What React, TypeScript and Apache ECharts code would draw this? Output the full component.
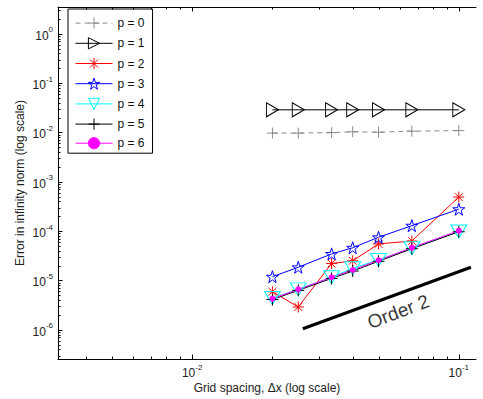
import React, { useEffect, useRef } from "react";
import * as echarts from "echarts";

// ---- data ----
const gridX = [0.02, 0.025, 1 / 30, 0.04, 0.05, 1 / 15, 0.1];
const errP0 = [0.0097, 0.0097, 0.0099, 0.0103, 0.0101, 0.0106, 0.0109];
const errP1 = [0.0287, 0.0287, 0.0287, 0.0287, 0.0287, 0.0287, 0.0287];
const errP2 = [5.9e-6, 2.9e-6, 2.2e-5, 2.5e-5, 5.5e-5, 6.3e-5, 4.9e-4];
const errP3 = [1.19e-5, 1.85e-5, 3.45e-5, 4.6e-5, 7.5e-5, 1.29e-4, 2.78e-4];
const errP4 = [4.4e-6, 6.6e-6, 1.16e-5, 1.77e-5, 2.6e-5, 4.5e-5, 9.8e-5];
const errP5 = [4.1e-6, 6.3e-6, 1.1e-5, 1.55e-5, 2.45e-5, 4.4e-5, 9.7e-5];
const errP6 = [4.27e-6, 6.6e-6, 1.16e-5, 1.63e-5, 2.57e-5, 4.63e-5, 1.02e-4];
const seriesNames = ["p = 0", "p = 1", "p = 2", "p = 3", "p = 4", "p = 5", "p = 6"];
const orderX = [0.026, 0.111];
const orderY = [1.05e-6, 1.85e-5];
const orderLabelX = 0.0593;
const orderLabelY = 2.33e-6;
const orderLabelText = "Order 2";
const xMin = 0.00314;
const xMax = 0.116;
const yMin = 2.56e-7;
const yMax = 3.48;
const xDecades = [-3, -2, -1];
const yDecades = [-7, -6, -5, -4, -3, -2, -1, 0];
const mantissas = [1, 2, 3, 4, 5, 6, 7, 8, 9];
const xTitle = "Grid spacing, \u0394x (log scale)";
const yTitle = "Error in infinity norm (log scale)";

const FONT = "'Liberation Sans', Arial, Helvetica, sans-serif";

const PLUS = "path://M5,0L5,10M0,5L10,5";
const ASTER = "path://M5,0L5,10M0,5L10,5M1.46,1.46L8.54,8.54M8.54,1.46L1.46,8.54";
const STAR =
  "path://M10,0L12.25,6.91L19.51,6.91L13.63,11.18L15.88,18.09L10,13.82L4.12,18.09L6.37,11.18L0.49,6.91L7.75,6.91Z";
const TRI_RIGHT = "path://M0,0L12,7L0,14Z";
const TRI_DOWN = "path://M0,0L16,0L8,13Z";

function buildTicks(decades: number[], lo: number, hi: number) {
  const out: number[][] = [];
  decades.forEach((d) => {
    mantissas.forEach((m) => {
      const v = m * Math.pow(10, d);
      if (v >= lo && v <= hi) out.push([v, m === 1 ? 1 : 0]);
    });
  });
  return out;
}

function supLabel(v: number) {
  const l = Math.log10(v);
  const e = Math.round(l);
  if (Math.abs(l - e) > 1e-6) return "";
  return `{b|10}{e|${e}}`;
}

export default function App() {
  const ref = useRef<HTMLDivElement>(null);
  useEffect(() => {
    if (!ref.current) return;
    const chart = echarts.init(ref.current, undefined, { renderer: "svg" });

    const xTicks = buildTicks(xDecades, xMin, xMax);
    const yTicks = buildTicks(yDecades, yMin, yMax);

    const mk = (
      name: string,
      vals: number[],
      color: string,
      symbol: string,
      size: any,
      fill: string,
      dashed = false,
      borderWidth = 1
    ) => ({
      name,
      type: "line",
      data: gridX.map((x, i) => [x, vals[i]]),
      symbol,
      symbolSize: size,
      showAllSymbol: true,
      lineStyle: { color, width: 1, type: dashed ? [5, 4] : "solid" },
      itemStyle: { color: fill, borderColor: color, borderWidth },
      emphasis: { disabled: true },
      z: 3,
    });

    const labelRich = {
      b: { fontSize: 12, lineHeight: 16, verticalAlign: "bottom", fontFamily: FONT, color: "#222" },
      e: { fontSize: 8, lineHeight: 8, verticalAlign: "top", fontFamily: FONT, color: "#222" },
    };

    chart.setOption({
      animation: false,
      backgroundColor: "#fff",
      textStyle: { fontFamily: FONT },
      grid: { left: 58, right: 7, top: 7, bottom: 40, outerBoundsMode: "none" },
      legend: {
        data: seriesNames,
        orient: "vertical",
        left: 68,
        top: 9,
        itemWidth: 37,
        itemHeight: 14,
        itemGap: 4,
        padding: [6, 8, 3, 7],
        backgroundColor: "#fff",
        borderColor: "#000",
        borderWidth: 1,
        borderRadius: 0,
        selectedMode: false,
        textStyle: { fontSize: 12, lineHeight: 14, color: "#111", fontFamily: FONT },
        itemStyle: { borderWidth: 1 },
        lineStyle: { width: 1 },
      },
      xAxis: [
        {
          type: "log",
          logBase: 10,
          min: xMin,
          max: xMax,
          position: "bottom",
          name: xTitle,
          nameLocation: "middle",
          nameGap: 23,
          nameMoveOverlap: false,
          nameTextStyle: { fontSize: 12, color: "#222", fontFamily: FONT },
          axisLine: { show: true, lineStyle: { color: "#000", width: 1 } },
          axisTick: { show: false },
          splitLine: { show: false },
          minorTick: { show: false },
          axisLabel: {
            margin: 4,
            formatter: supLabel,
            rich: labelRich,
            showMinLabel: false,
            showMaxLabel: false,
            hideOverlap: false,
          },
        },
        {
          type: "log",
          logBase: 10,
          min: xMin,
          max: xMax,
          position: "top",
          axisLine: { show: true, lineStyle: { color: "#000", width: 1 } },
          axisTick: { show: false },
          axisLabel: { show: false },
          splitLine: { show: false },
        },
      ],
      yAxis: [
        {
          type: "log",
          logBase: 10,
          min: yMin,
          max: yMax,
          name: yTitle,
          nameLocation: "middle",
          nameGap: 32,
          nameMoveOverlap: false,
          nameTextStyle: { fontSize: 12, color: "#222", fontFamily: FONT },
          axisLine: { show: true, lineStyle: { color: "#000", width: 1 } },
          axisTick: { show: false },
          splitLine: { show: false },
          minorTick: { show: false },
          axisLabel: {
            margin: 5,
            formatter: supLabel,
            rich: labelRich,
            showMinLabel: false,
            showMaxLabel: false,
            hideOverlap: false,
          },
        },
      ],
      series: [
        {
          name: "xticks",
          type: "custom",
          silent: true,
          xAxisIndex: 0,
          yAxisIndex: 0,
          data: xTicks.map((t) => [t[0], 1, t[1]]),
          encode: { x: 0, y: 1 },
          clip: false,
          z: 10,
          renderItem: (params: any, api: any) => {
            const cs = params.coordSys;
            const x = Math.round(api.coord([api.value(0), 1])[0]) + 0.5;
            const len = api.value(2) ? 4.5 : 2.5;
            const st = { stroke: "#000", lineWidth: 1 };
            return {
              type: "group",
              children: [
                { type: "line", shape: { x1: x, y1: cs.y + cs.height, x2: x, y2: cs.y + cs.height - len }, style: st },
                { type: "line", shape: { x1: x, y1: cs.y, x2: x, y2: cs.y + len }, style: st },
              ],
            };
          },
        },
        {
          name: "yticks",
          type: "custom",
          silent: true,
          xAxisIndex: 0,
          yAxisIndex: 0,
          data: yTicks.map((t) => [0.01, t[0], t[1]]),
          encode: { x: 0, y: 1 },
          clip: false,
          z: 10,
          renderItem: (params: any, api: any) => {
            const cs = params.coordSys;
            const y = Math.round(api.coord([0.01, api.value(1)])[1]) + 0.5;
            const len = api.value(2) ? 4.5 : 2.5;
            return {
              type: "line",
              shape: { x1: cs.x, y1: y, x2: cs.x + len, y2: y },
              style: { stroke: "#000", lineWidth: 1 },
            };
          },
        },
        mk(seriesNames[0], errP0, "#8a8a8a", PLUS, 11, "none", true),
        mk(seriesNames[1], errP1, "#000", TRI_RIGHT, [12, 14], "none"),
        mk(seriesNames[2], errP2, "#ff0000", ASTER, 11, "none"),
        mk(seriesNames[3], errP3, "#0000ff", STAR, 12, "none"),
        mk(seriesNames[4], errP4, "#00ffff", TRI_DOWN, [16, 13], "none"),
        mk(seriesNames[5], errP5, "#000", PLUS, 12, "none"),
        mk(seriesNames[6], errP6, "#ff00ff", "circle", 6, "#ff00ff", false, 0),
        {
          name: "order",
          type: "line",
          data: orderX.map((x, i) => [x, orderY[i]]),
          symbol: "none",
          lineStyle: { color: "#000", width: 3 },
          silent: true,
          z: 4,
        },
        {
          name: "orderLabel",
          type: "scatter",
          data: [[orderLabelX, orderLabelY]],
          symbolSize: 0,
          silent: true,
          label: {
            show: true,
            position: "inside",
            formatter: orderLabelText,
            rotate: 21,
            fontSize: 19,
            color: "#000",
            fontFamily: FONT,
          },
          z: 5,
        },
      ],
    });
    return () => chart.dispose();
  }, []);
  return (
    <div
      ref={ref}
      style={{ position: "fixed", left: 0, top: 0, width: 483, height: 399 }}
    />
  );
}
